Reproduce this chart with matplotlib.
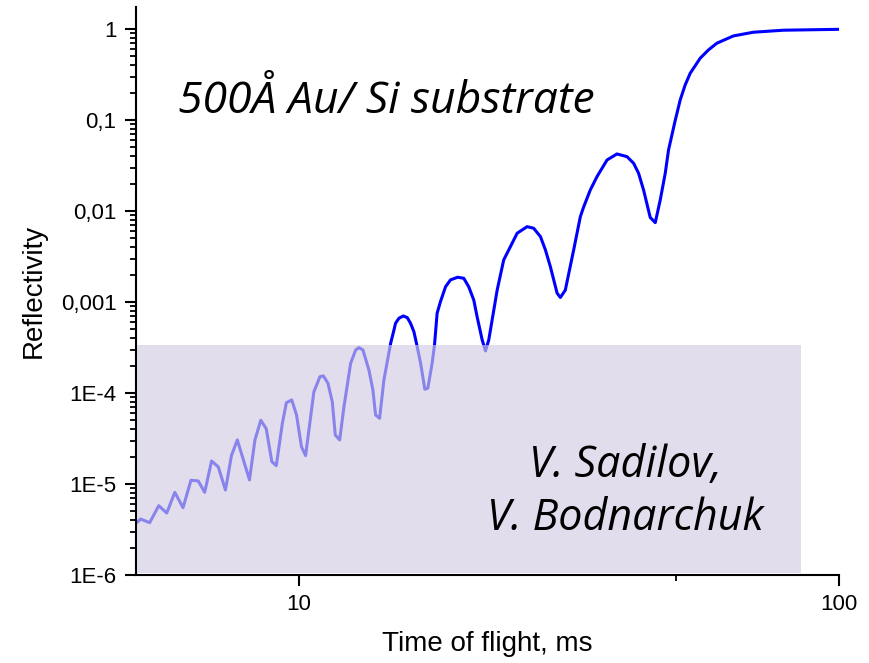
import numpy as np
import matplotlib
matplotlib.use("Agg")
import matplotlib.pyplot as plt
from matplotlib.patches import Rectangle
from matplotlib.ticker import FixedLocator, FixedFormatter, NullFormatter

# time of flight (ms) and reflectivity
tof = [5.0, 5.10, 5.30, 5.51, 5.70, 5.90, 6.11, 6.32, 6.52, 6.70,
       6.90, 7.10, 7.32, 7.51, 7.70, 8.11, 8.30, 8.51, 8.71, 8.92,
       9.09, 9.33, 9.49, 9.71, 9.91, 10.12, 10.30, 10.67, 10.95, 11.11,
       11.33, 11.54, 11.69, 11.91, 12.13, 12.48, 12.75, 12.93, 13.15, 13.49,
       13.72, 13.88, 14.12, 14.38, 14.80, 15.01, 15.11, 15.33, 15.62, 15.89,
       16.11, 16.34, 16.52, 16.81, 17.12, 17.34, 17.66, 17.84, 18.04, 18.30,
       18.70, 19.10, 19.70, 20.21, 20.64, 21.09, 21.39, 21.86, 22.17, 22.48,
       23.30, 23.96, 24.48, 25.37, 26.47, 27.22, 28.02, 28.62, 29.23, 30.08,
       30.50, 31.15, 32.28, 33.21, 33.69, 34.65, 35.65, 37.21, 38.82, 40.52,
       41.68, 42.56, 43.48, 44.73, 45.70, 46.68, 47.69, 48.36, 49.78, 50.83,
       51.91, 53.04, 55.35, 57.33, 59.42, 63.77, 69.44, 78.89, 100.0]
refl = [3.70e-6, 4.12e-6, 3.76e-6, 5.78e-6, 4.80e-6, 8.10e-6, 5.49e-6, 1.10e-5, 1.08e-5, 8.10e-6,
        1.79e-5, 1.54e-5, 8.59e-6, 2.05e-5, 3.05e-5, 1.11e-5, 3.05e-5, 5.01e-5, 4.05e-5, 1.76e-5,
        1.59e-5, 4.65e-5, 7.82e-5, 8.38e-5, 5.73e-5, 2.57e-5, 2.05e-5, 1.03e-4, 1.51e-4, 1.54e-4,
        1.28e-4, 8.02e-5, 3.45e-5, 3.05e-5, 7.07e-5, 2.12e-4, 2.97e-4, 3.15e-4, 2.97e-4, 1.79e-4,
        1.08e-4, 5.73e-5, 5.27e-5, 1.39e-4, 3.52e-4, 4.92e-4, 5.83e-4, 6.62e-4, 7.02e-4, 6.72e-4,
        5.83e-4, 4.72e-4, 3.52e-4, 2.14e-4, 1.10e-4, 1.13e-4, 2.12e-4, 3.37e-4, 7.52e-4, 1.01e-3,
        1.47e-3, 1.75e-3, 1.87e-3, 1.82e-3, 1.47e-3, 1.05e-3, 6.90e-4, 3.82e-4, 2.90e-4, 3.82e-4,
        1.35e-3, 2.90e-3, 3.73e-3, 5.69e-3, 6.72e-3, 6.46e-3, 5.22e-3, 3.73e-3, 2.44e-3, 1.25e-3,
        1.12e-3, 1.35e-3, 3.73e-3, 8.65e-3, 1.11e-2, 1.70e-2, 2.38e-2, 3.63e-2, 4.23e-2, 3.95e-2,
        3.34e-2, 2.60e-2, 1.70e-2, 8.49e-3, 7.44e-3, 1.32e-2, 2.60e-2, 4.68e-2, 0.100, 0.166,
        0.242, 0.326, 0.477, 0.588, 0.697, 0.838, 0.920, 0.968, 0.99]

ytick_vals = [1e-6, 1e-5, 1e-4, 1e-3, 1e-2, 1e-1, 1]
ytick_labels = ["1E-6", "1E-5", "1E-4", "0,001", "0,01", "0,1", "1"]
xtick_vals = [10, 100]
xtick_labels = ["10", "100"]

# shaded box (low-count region)
box_x = [5.02, 85.1]
box_y = [1.05e-6, 3.37e-4]

plt.rcParams['font.family'] = ['Liberation Sans', 'DejaVu Sans']

fig = plt.figure(figsize=(8.7, 6.63), dpi=100)
ax = fig.add_axes([0.1563, 0.1327, 0.8081, 0.8567])

ax.plot(tof, refl, color='#0000ff', lw=2.2, zorder=2)
ax.add_patch(Rectangle((box_x[0], box_y[0]), box_x[1] - box_x[0], box_y[1] - box_y[0],
                       facecolor='#d2cce2', edgecolor='none', alpha=0.65, zorder=3))

ax.set_xscale('log')
ax.set_yscale('log')
ax.set_xlim(5, 100)
ax.set_ylim(1e-6, 1.74)

ax.yaxis.set_major_locator(FixedLocator(ytick_vals))
ax.yaxis.set_major_formatter(FixedFormatter(ytick_labels))
ymin = []
for d in ytick_vals[:-1]:
    for k in range(2, 10):
        ymin.append(d * k)
ax.yaxis.set_minor_locator(FixedLocator(ymin))
ax.yaxis.set_minor_formatter(NullFormatter())

ax.xaxis.set_major_locator(FixedLocator(xtick_vals))
ax.xaxis.set_major_formatter(FixedFormatter(xtick_labels))
ax.xaxis.set_minor_locator(FixedLocator([50]))
ax.xaxis.set_minor_formatter(NullFormatter())

for s in ['top', 'right']:
    ax.spines[s].set_visible(False)
for s in ['left', 'bottom']:
    ax.spines[s].set_linewidth(1.5)

ax.tick_params(which='major', direction='out', length=8, width=1.5, labelsize=16, pad=6)
ax.tick_params(which='minor', direction='out', length=4, width=1.3)

ax.set_xlabel("Time of flight, ms", fontsize=20, labelpad=11)
ax.set_ylabel("Reflectivity", fontsize=20, labelpad=10)

fig.text(178 / 870, 1 - 113 / 663, "500Å Au/ Si substrate", fontsize=32,
         style='italic', family=['Open Sans', 'DejaVu Sans'], ha='left', va='baseline')
fig.text(625 / 870, 1 - 492 / 663, "V. Sadilov,\nV. Bodnarchuk", fontsize=31,
         style='italic', family=['Open Sans', 'DejaVu Sans'], ha='center', va='center',
         linespacing=1.25, multialignment='center')

fig.savefig("out.png", dpi=100)
